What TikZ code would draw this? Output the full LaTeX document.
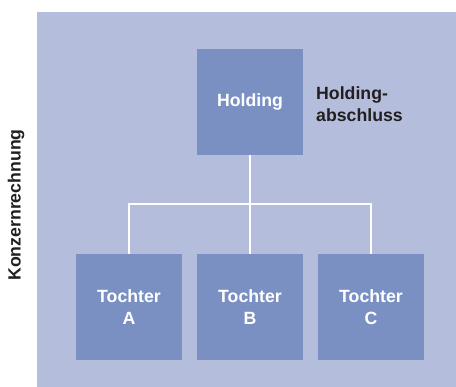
\documentclass[tikz,border=0pt]{standalone}
\usepackage{fontspec}
\setmainfont{Liberation Sans}
\definecolor{bgc}{HTML}{B4BDDC}
\definecolor{boxc}{HTML}{7A90C2}
\definecolor{txtc}{HTML}{231F20}
\begin{document}
\begin{tikzpicture}[x=1pt,y=-1pt,
  unit/.style={fill=boxc,minimum width=106pt,minimum height=106pt,inner sep=0pt,
    text=white,font=\fontsize{17.7}{22}\selectfont\bfseries,align=center},
  conn/.style={draw=white,line width=2pt},
  lbl/.style={text=txtc,font=\fontsize{17.7}{22}\selectfont\bfseries,inner sep=0pt}]
\useasboundingbox (0,0) rectangle (456,387);
\fill[bgc] (37,12) rectangle (456,387);
\node[unit] (hold) at (250,102) {Holding};
\node[unit] (ta) at (129,307) {Tochter\\A};
\node[unit] (tb) at (250,307) {Tochter\\B};
\node[unit] (tc) at (371,307) {Tochter\\C};
\coordinate (j) at (250,204);
\coordinate (ja) at (129,204);
\coordinate (jc) at (371,204);
\draw[conn] (hold.south) -- (j);
\draw[conn,line join=miter] (ta.north) -- (ja) -- (jc) -- (tc.north);
\draw[conn] (j) -- (tb.north);
\node[lbl,anchor=west,align=left] (hl) at (316,104) {Holding-\\abschluss};
\node[lbl,rotate=90] (kr) at (16,205) {Konzernrechnung};
\end{tikzpicture}
\end{document}
